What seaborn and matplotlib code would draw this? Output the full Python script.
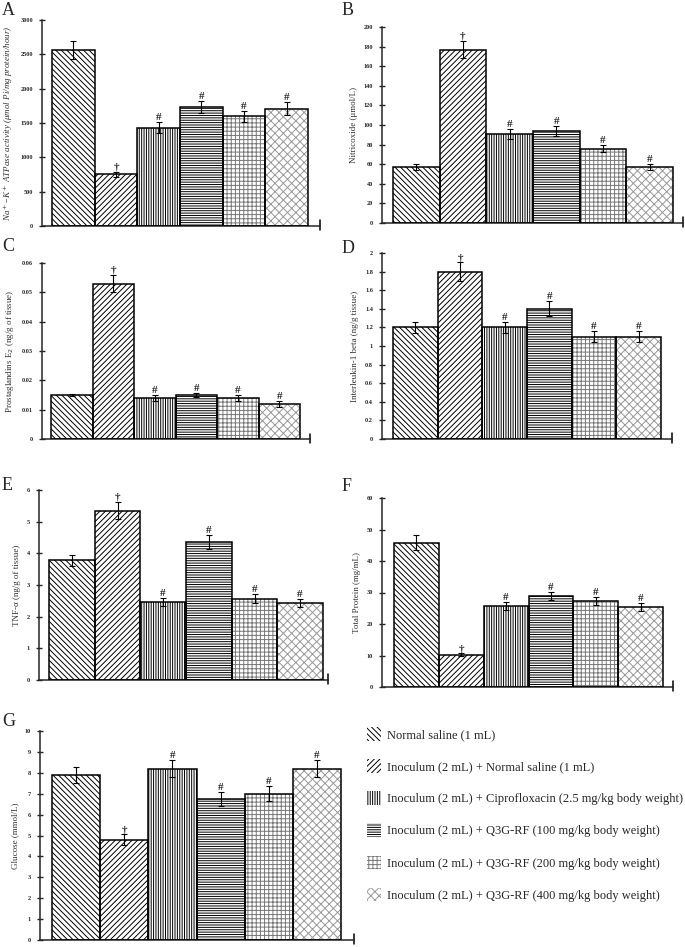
import pandas as pd
import matplotlib.pyplot as plt
import seaborn as sns
from matplotlib.patches import Patch, Rectangle

groups = ["Normal saline (1 mL)",
          "Inoculum (2 mL) + Normal saline (1 mL)",
          "Inoculum (2 mL) + Ciprofloxacin (2.5 mg/kg body weight)",
          "Inoculum (2 mL) + Q3G-RF (100 mg/kg body weight)",
          "Inoculum (2 mL) + Q3G-RF (200 mg/kg body weight)",
          "Inoculum (2 mL) + Q3G-RF (400 mg/kg body weight)"]
marks = ["", "\u2020", "#", "#", "#", "#"]

atpase = [2560, 750, 1430, 1730, 1600, 1710]
atpase_err = [130, 40, 80, 90, 80, 100]
nitric = [57, 177, 91, 94, 76, 57]
nitric_err = [3, 9, 5, 5, 4, 3]
pge2 = [0.015, 0.053, 0.014, 0.015, 0.014, 0.012]
pge2_err = [0.0005, 0.003, 0.001, 0.0008, 0.001, 0.001]
il1b = [1.2, 1.8, 1.2, 1.4, 1.1, 1.1]
il1b_err = [0.06, 0.1, 0.06, 0.08, 0.06, 0.06]
tnf = [3.78, 5.35, 2.47, 4.35, 2.57, 2.43]
tnf_err = [0.18, 0.28, 0.13, 0.22, 0.14, 0.13]
protein = [45.8, 10.2, 25.8, 28.9, 27.2, 25.5]
protein_err = [2.4, 0.5, 1.3, 1.4, 1.3, 1.3]
glucose = [7.9, 4.8, 8.2, 6.75, 7.0, 8.2]
glucose_err = [0.4, 0.25, 0.4, 0.35, 0.35, 0.4]

hatches = ["\\" * 6, "/" * 6, "|" * 7, "-" * 7, "++++", "xxxx"]
hatch_colors = ["black", "black", "black", "black", "#777777", "#999999"]

sns.set_style("ticks")
plt.rcParams["font.family"] = ["Liberation Serif", "DejaVu Serif"]
plt.rcParams["hatch.linewidth"] = 0.7

W, H = 685, 947
fig = plt.figure(figsize=(W / 100, H / 100), dpi=100)


def panel(letter, letter_pos, vals, errs, ylabel, yticks, box, bars, italic=False):
    left, right, top, bottom = box
    ax = fig.add_axes([left / W, 1 - bottom / H, (right - left) / W, (bottom - top) / H])
    df = pd.DataFrame({"group": groups, "value": vals})
    sns.barplot(data=df, x="group", y="value", hue="group", palette=["white"] * 6,
                legend=False, width=1, errorbar=None, ax=ax)
    for p, h, hc in zip(ax.patches, hatches, hatch_colors):
        p.set_hatch(h)
        p.set_edgecolor(hc)
        p.set_linewidth(0)
        ax.add_patch(Rectangle(p.get_xy(), p.get_width(), p.get_height(),
                               fill=False, ec="black", lw=1.1, zorder=3))
    xs = [p.get_x() + p.get_width() / 2 for p in ax.patches[:6]]
    ax.errorbar(xs, vals, yerr=errs, fmt="none", ecolor="black", elinewidth=0.8,
                capsize=2.5, capthick=0.8, zorder=4)
    for x, v, e, m in zip(xs, vals, errs, marks):
        if m:
            ax.annotate(m, (x, v + e), xytext=(0, 0), textcoords="offset points",
                        ha="center", va="bottom", fontsize=8, fontweight="bold")
    bw = (bars[1] - bars[0]) / 6
    ax.set_xlim(-0.5 - (bars[0] - left) / bw, 5.5 + (right - bars[1]) / bw)
    ax.set_ylim(yticks[0], yticks[-1])
    ax.set_yticks(yticks)
    ax.set_yticklabels([("%g" % v) for v in yticks], fontsize=4.5, fontweight="bold")
    ax.set_xticks([])
    ax.set_xlabel("")
    ax.set_ylabel(ylabel, fontsize=6.5, color="#333333",
                  style="italic" if italic else "normal")
    ax.tick_params(axis="y", direction="inout", length=5, width=1, pad=4)
    sns.despine(ax=ax)
    ax.spines["left"].set_linewidth(1.1)
    ax.spines["bottom"].set_linewidth(1.1)
    ax.axvline(ax.get_xlim()[1], ymin=-0.02, ymax=0.03, color="black", lw=1.1, clip_on=False)
    fig.text(letter_pos[0] / W, 1 - letter_pos[1] / H, letter, fontsize=13, va="top")
    return ax


panel("A", (2, 2), atpase, atpase_err,
      "Na$^+$\u2013K$^+$ ATPase activity (\u03bcmol Pi/mg protein/hour)",
      [0, 500, 1000, 1500, 2000, 2500, 3000], (42, 320, 20, 226), (52, 308), italic=True)
panel("B", (342, 2), nitric, nitric_err, "Nitricoxide (\u03bcmol/L)",
      list(range(0, 201, 20)), (382, 683, 27, 223), (393, 673))
panel("C", (2, 238), pge2, pge2_err, "Prostaglandins E$_2$ (ng/g of tissue)",
      [0, 0.01, 0.02, 0.03, 0.04, 0.05, 0.06], (42, 310, 263, 439), (51, 300))
panel("D", (342, 240), il1b, il1b_err, "Interleukin-1 beta (ng/g tissue)",
      [0, 0.2, 0.4, 0.6, 0.8, 1.0, 1.2, 1.4, 1.6, 1.8, 2.0], (382, 672, 253, 439), (393, 661))
panel("E", (2, 477), tnf, tnf_err, "TNF-\u03b1 (ng/g of tissue)",
      list(range(0, 7)), (39, 328, 490, 680), (49, 323))
panel("F", (342, 478), protein, protein_err, "Total Protein (mg/mL)",
      list(range(0, 61, 10)), (382, 673, 498, 687), (394, 663))
panel("G", (2, 713), glucose, glucose_err, "Glucose (mmol/L)",
      list(range(0, 11)), (40, 354, 731, 940), (52, 341))

handles = [Patch(facecolor="white", edgecolor=hc, hatch=h, linewidth=0)
           for h, hc in zip(hatches, hatch_colors)]
fig.legend(handles, groups, loc="upper left", bbox_to_anchor=(362 / W, 1 - 722 / H),
           frameon=False, fontsize=9, handlelength=1.1, handleheight=1.3,
           handletextpad=0.5, labelspacing=1.45, borderaxespad=0)

plt.savefig("out.png", format="png", dpi=100)
plt.close()
